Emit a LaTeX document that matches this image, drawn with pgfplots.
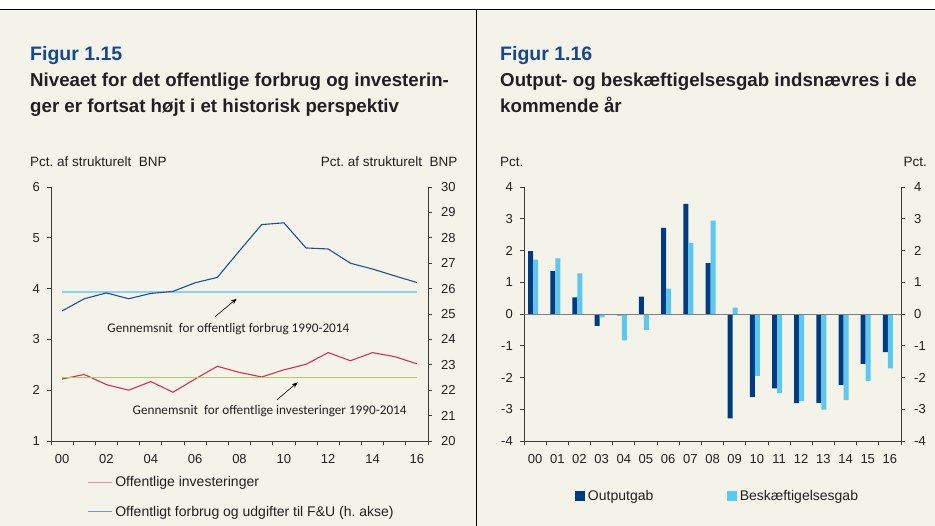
\documentclass[border=0pt]{standalone}
\usepackage{pgfplots}
\pgfplotsset{compat=1.18}
\usepackage{fontspec}
\setmainfont{Liberation Sans}
\newfontfamily\carlito{Carlito}
\usetikzlibrary{arrows.meta}
\definecolor{cream}{HTML}{F4F3EA}
\definecolor{titleblue}{HTML}{17478C}
\definecolor{txt}{HTML}{231F20}
\definecolor{invred}{HTML}{D4304F}
\definecolor{forbblue}{HTML}{1F4F96}
\definecolor{meancyan}{HTML}{8ED4EE}
\definecolor{meangreen}{HTML}{ABCB6E}
\definecolor{navy}{HTML}{003A80}
\definecolor{lightb}{HTML}{5CC8EE}
\definecolor{axcol}{HTML}{3A3A3A}
\pgfplotsset{
  panel/.style={
    width=377pt, height=254pt, scale only axis,
    xmin=-0.5, xmax=16.5,
    axis line style={draw=axcol, line width=0.8pt, -},
    tick style={draw=axcol, line width=0.8pt},
    major tick length=4pt,
    /pgf/number format/assume math mode=true,
    tick label style={font=\fontsize{13}{15}\selectfont, text=txt, inner sep=0pt},
    xtick={-0.5,0.5,...,16.5}, xticklabels={},
    extra x tick style={major tick length=0pt},
    xticklabel style={yshift=-13pt},
  }
}
\begin{document}
\frenchspacing
\begin{tikzpicture}
\useasboundingbox (0pt,0pt) rectangle (935pt,-526pt);
\fill[white] (0pt,0pt) rectangle (935pt,-526pt);
\fill[cream] (0pt,-10pt) rectangle (935pt,-526pt);
\draw[black, line width=1pt] (0pt,-10pt) -- (935pt,-10pt);
\draw[black, line width=1pt] (476.5pt,-10pt) -- (476.5pt,-526pt);
% titles
\node[anchor=base west, inner sep=0pt, text=titleblue, font=\bfseries\fontsize{19.5}{22}\selectfont] at (30pt,-61pt) {Figur 1.15};
\node[anchor=base west, inner sep=0pt, text=txt, font=\bfseries\fontsize{18.7}{20}\selectfont] at (30pt,-87pt) {Niveaet for det offentlige forbrug og investerin-};
\node[anchor=base west, inner sep=0pt, text=txt, font=\bfseries\fontsize{18.7}{20}\selectfont] at (30pt,-113pt) {ger er fortsat højt i et historisk perspektiv};
\node[anchor=base west, inner sep=0pt, text=txt, font=\fontsize{13.5}{15}\selectfont] at (30pt,-166.5pt) {Pct. af strukturelt~ BNP};
\node[anchor=base east, inner sep=0pt, text=txt, font=\fontsize{13.5}{15}\selectfont] at (457.5pt,-166.5pt) {Pct. af strukturelt~ BNP};
\node[anchor=base west, inner sep=0pt, text=titleblue, font=\bfseries\fontsize{19.5}{22}\selectfont] at (500pt,-61pt) {Figur 1.16};
\node[anchor=base west, inner sep=0pt, text=txt, font=\bfseries\fontsize{18.7}{20}\selectfont] at (500pt,-87pt) {Output- og beskæftigelsesgab indsnævres i de};
\node[anchor=base west, inner sep=0pt, text=txt, font=\bfseries\fontsize{18.7}{20}\selectfont] at (500pt,-113pt) {kommende år};
\node[anchor=base west, inner sep=0pt, text=txt, font=\fontsize{13.5}{15}\selectfont] at (500pt,-166.5pt) {Pct.};
\node[anchor=base east, inner sep=0pt, text=txt, font=\fontsize{13.5}{15}\selectfont] at (927pt,-166.5pt) {Pct.};
% ---- left chart, left axis
\begin{axis}[panel, at={(51pt,-441pt)}, anchor=south west,
  ymin=1, ymax=6, ytick={1,...,6},
  axis x line*=bottom, axis y line*=left, tick align=outside,
  yticklabel style={xshift=-7pt},
  extra x ticks={0,2,...,16}, extra x tick labels={00,02,04,06,08,10,12,14,16},
  legend image code/.code={\draw[#1] (0pt,0pt) -- (24pt,0pt); \path (26pt,0pt);},
  legend style={at={(axis description cs:0.0955,-0.134)}, anchor=north west,
    draw=none, fill=none, inner sep=0pt, font=\fontsize{14}{16}\selectfont, text=txt,
    cells={anchor=west}, row sep=16pt, nodes={inner sep=1pt}},
]
\addplot[invred, line width=1.1pt, legend image post style={invred!55}] coordinates {
(0,2.22) (1,2.31) (2,2.11) (3,2.00) (4,2.17) (5,1.96) (6,2.22) (7,2.47) (8,2.35)
(9,2.26) (10,2.40) (11,2.51) (12,2.74) (13,2.58) (14,2.74) (15,2.66) (16,2.52)};
\addlegendentry{Offentlige investeringer}
\addlegendimage{forbblue!60, line width=1.1pt}
\addlegendentry{Offentligt forbrug og udgifter til F\&U (h. akse)}
\addplot[meangreen, line width=1.1pt, forget plot] coordinates {(0,2.25) (16,2.25)};
\node[anchor=base, inner sep=0pt, text=txt, font=\carlito\fontsize{13.2}{15}\selectfont] at (axis cs:7.50,3.13) {Gennemsnit~ for offentligt forbrug 1990-2014};
\node[anchor=base, inner sep=0pt, text=txt, font=\carlito\fontsize{13.2}{15}\selectfont] at (axis cs:9.36,1.53) {Gennemsnit~ for offentlige investeringer 1990-2014};
\draw[-{Stealth[length=6pt,width=4.5pt]}, line width=0.6pt, black] (axis cs:6.895,3.447) -- (axis cs:7.874,3.801);
\draw[-{Stealth[length=6pt,width=4.5pt]}, line width=0.6pt, black] (axis cs:9.678,1.807) -- (axis cs:10.625,2.156);
\end{axis}
% ---- left chart, right axis
\begin{axis}[panel, at={(51pt,-441pt)}, anchor=south west,
  ymin=20, ymax=30, ytick={20,...,30},
  axis y line*=right, axis x line=none, tick align=outside,
  yticklabel style={xshift=9pt},
]
\addplot[meancyan, line width=2pt] coordinates {(0,25.87) (16,25.87)};
\addplot[forbblue, line width=1.1pt] coordinates {
(0,25.12) (1,25.60) (2,25.83) (3,25.60) (4,25.81) (5,25.89) (6,26.23) (7,26.44) (8,27.49)
(9,28.52) (10,28.59) (11,27.60) (12,27.56) (13,27.00) (14,26.77) (15,26.50) (16,26.24)};
\end{axis}
% ---- right chart
\begin{axis}[panel, at={(524pt,-441pt)}, anchor=south west,
  ymin=-4, ymax=4, ytick={-4,...,4},
  axis x line*=bottom, axis y line*=left, tick align=outside,
  yticklabel style={xshift=-7pt},
  extra x ticks={0,...,16}, extra x tick labels={00,01,02,03,04,05,06,07,08,09,10,11,12,13,14,15,16},
  legend columns=2,
  legend style={at={(axis description cs:0.135,-0.188)}, anchor=north west,
    draw=none, fill=none, inner sep=0pt, font=\fontsize{14}{16}\selectfont, text=txt,
    cells={anchor=west}, nodes={inner sep=1pt},
    /tikz/every even column/.append style={column sep=72.5pt}},
]
\addplot[ybar, bar width=5pt, bar shift=-4.5pt, fill=navy, draw=none, forget plot] coordinates {
(0,1.98) (1,1.35) (2,0.52) (3,-0.37) (4,-0.04) (5,0.55) (6,2.71) (7,3.47) (8,1.60)
(9,-3.29) (10,-2.61) (11,-2.34) (12,-2.81) (13,-2.80) (14,-2.23) (15,-1.57) (16,-1.20)};
\addplot[ybar, bar width=5pt, bar shift=0.5pt, fill=lightb, draw=none, forget plot] coordinates {
(0,1.71) (1,1.75) (2,1.28) (3,-0.11) (4,-0.83) (5,-0.50) (6,0.80) (7,2.24) (8,2.94)
(9,0.20) (10,-1.95) (11,-2.49) (12,-2.74) (13,-3.01) (14,-2.71) (15,-2.11) (16,-1.71)};
\addplot[gray, line width=0.8pt, forget plot] coordinates {(-0.5,0) (16.5,0)};
\addlegendimage{legend image code/.code={\fill[navy] (0pt,-4.5pt) rectangle (9pt,4.5pt); \path (11.5pt,0pt);}}
\addlegendentry{Outputgab}
\addlegendimage{legend image code/.code={\fill[lightb] (0pt,-4.5pt) rectangle (9pt,4.5pt); \path (11.5pt,0pt);}}
\addlegendentry{Beskæftigelsesgab}
\end{axis}
\begin{axis}[panel, at={(524pt,-441pt)}, anchor=south west,
  ymin=-4, ymax=4, ytick={-4,...,4},
  axis y line*=right, axis x line=none, tick align=outside,
  yticklabel style={xshift=9pt},
]
\addplot[draw=none] coordinates {(0,0)};
\end{axis}
\end{tikzpicture}
\end{document}
